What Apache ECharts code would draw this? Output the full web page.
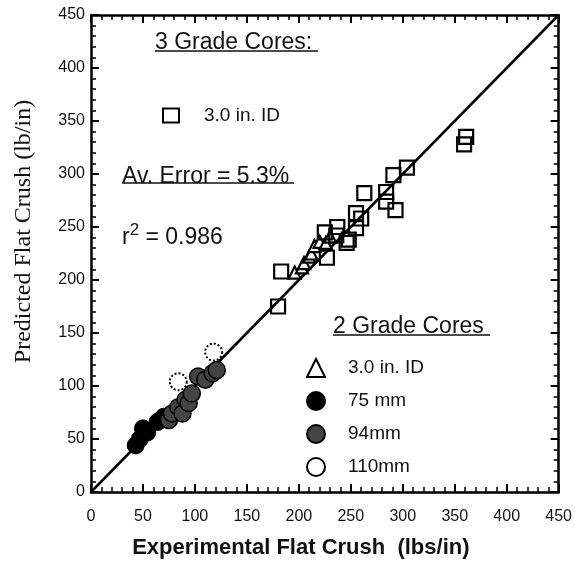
<!DOCTYPE html>
<html>
<head>
<meta charset="utf-8">
<script src="https://cdn.jsdelivr.net/npm/echarts@6/dist/echarts.min.js"></script>
<style>
  html, body { margin: 0; padding: 0; background: #fff; }
  #chart { width: 575px; height: 581px; }
</style>
</head>
<body>
<div id="chart"></div>
<script>
// x = experimental, y = predicted (lb/in)
const grade3_30in = [
  [183, 208], [180, 175], [225, 245], [227, 221], [236, 242], [237, 250],
  [246, 235], [248, 238], [255, 249], [255, 263], [260, 258], [263, 282],
  [284, 274], [284, 283], [291, 299], [293, 266], [304, 306], [361, 335],
  [359, 328]
]
const grade2_30in = [
  [196, 207], [203, 212], [205, 216], [210, 222], [212, 225], [215, 232],
  [220, 236], [226, 235], [230, 241]
]
const grade2_75mm = [
  [43, 44], [47, 50], [50, 60], [54, 56], [64, 66], [67, 68], [70, 71]
]
const grade2_94mm = [
  [75, 68], [78, 74], [84, 80], [88, 74], [91, 87], [94, 84], [97, 93],
  [103, 109], [110, 106], [117, 112], [121, 115]
]
const grade2_110mm = [
  [84, 104], [118, 132]
]
const fitLine = [[0, 0], [450, 450]]
const axisTicks = { min: 0, max: 450, interval: 50 }

const chart = echarts.init(document.getElementById('chart'))

const sans = 'Liberation Sans, Arial, sans-serif'

function frameAxis(extra) {
  return Object.assign({
    type: 'value',
    min: axisTicks.min,
    max: axisTicks.max,
    interval: axisTicks.interval,
    axisLine: { show: true, onZero: false, lineStyle: { color: '#000', width: 2.5 } },
    axisTick: { show: true, inside: true, length: 8, lineStyle: { color: '#000', width: 2 } },
    minorTick: { show: true, splitNumber: 5, length: 5, lineStyle: { color: '#000', width: 1.5 } },
    splitLine: { show: false },
    axisLabel: { show: false }
  }, extra)
}

const option = {
  backgroundColor: '#fff',
  animation: false,
  grid: { left: 91, right: 14, top: 15, bottom: 89 },
  xAxis: [
    frameAxis({
      position: 'bottom',
      name: 'Experimental Flat Crush  (lbs/in)',
      nameLocation: 'middle',
      nameGap: 45,
      nameTextStyle: { fontFamily: sans, fontWeight: 'bold', fontSize: 22, color: '#111', padding: [0, 48, 0, 0] },
      axisLabel: { show: true, margin: 17, fontFamily: sans, fontSize: 16, color: '#111' }
    }),
    frameAxis({ position: 'top' })
  ],
  yAxis: [
    frameAxis({
      position: 'left',
      name: 'Predicted Flat Crush (lb/in)',
      nameLocation: 'middle',
      nameGap: 55,
      nameTextStyle: { fontFamily: 'Liberation Serif, Times New Roman, serif', fontSize: 24, color: '#111', padding: [0, 0, 0, 44] },
      axisLabel: { show: true, margin: 6, fontFamily: sans, fontSize: 16, color: '#111' }
    }),
    frameAxis({ position: 'right' })
  ],
  legend: [
    {
      data: ['3.0 in. ID '],
      left: 157, top: 101,
      itemWidth: 16, itemHeight: 14,
      textStyle: { fontFamily: sans, fontSize: 19, color: '#111', padding: [0, 0, 0, 20] }
    },
    {
      data: ['3.0 in. ID', '75 mm', '94mm', '110mm'],
      orient: 'vertical',
      left: 301, top: 353,
      itemWidth: 18, itemHeight: 18, itemGap: 13,
      textStyle: { fontFamily: sans, fontSize: 19, color: '#111', padding: [0, 0, 0, 18] }
    }
  ],
  graphic: [
    { type: 'text', left: 155, top: 31, style: { text: '3 Grade Cores:', font: '23px ' + sans, fill: '#111' } },
    { type: 'line', shape: { x1: 155, y1: 51, x2: 318, y2: 51 }, style: { stroke: '#111', lineWidth: 1.5 } },
    { type: 'text', left: 122, top: 165, style: { text: 'Av. Error = 5.3%', font: '23px ' + sans, fill: '#111' } },
    { type: 'line', shape: { x1: 122, y1: 183, x2: 294, y2: 183 }, style: { stroke: '#111', lineWidth: 1.5 } },
    {
      type: 'text', left: 122, top: 222,
      style: {
        text: '{a|r}{b|2}{a| = 0.986}',
        rich: {
          a: { fontFamily: sans, fontSize: 23, fill: '#111' },
          b: { fontFamily: sans, fontSize: 17, fill: '#111', padding: [0, 0, 14, 0] }
        }
      }
    },
    { type: 'text', left: 333, top: 315, style: { text: '2 Grade Cores', font: '23px ' + sans, fill: '#111' } },
    { type: 'line', shape: { x1: 333, y1: 335, x2: 490, y2: 335 }, style: { stroke: '#111', lineWidth: 1.5 } }
  ],
  series: [
    {
      type: 'line',
      data: fitLine,
      symbol: 'none',
      silent: true,
      lineStyle: { color: '#000', width: 2.5 },
      z: 1
    },
    {
      name: '3.0 in. ID ',
      type: 'scatter',
      data: grade3_30in,
      symbol: 'rect',
      symbolSize: 14,
      itemStyle: { color: 'rgba(255,255,255,0)', borderColor: '#000', borderWidth: 2.2, opacity: 1 },
      z: 3
    },
    {
      name: '3.0 in. ID',
      type: 'scatter',
      data: grade2_30in,
      symbol: 'triangle',
      symbolSize: 12,
      itemStyle: { color: '#fff', borderColor: '#000', borderWidth: 2.2, opacity: 1 },
      z: 2
    },
    {
      name: '75 mm',
      type: 'scatter',
      data: grade2_75mm,
      symbol: 'circle',
      symbolSize: 17,
      itemStyle: { color: '#000', borderColor: '#000', borderWidth: 1, opacity: 1 },
      z: 2
    },
    {
      name: '94mm',
      type: 'scatter',
      data: grade2_94mm,
      symbol: 'circle',
      symbolSize: 17,
      itemStyle: { color: '#444', borderColor: '#000', borderWidth: 1.5, opacity: 1 },
      z: 2
    },
    {
      name: '110mm',
      type: 'scatter',
      data: grade2_110mm,
      symbol: 'circle',
      symbolSize: 17,
      itemStyle: { color: '#fff', borderColor: '#000', borderWidth: 2, borderType: 'dotted', opacity: 1 },
      z: 2
    }
  ]
}

chart.setOption(option)
</script>
</body>
</html>
